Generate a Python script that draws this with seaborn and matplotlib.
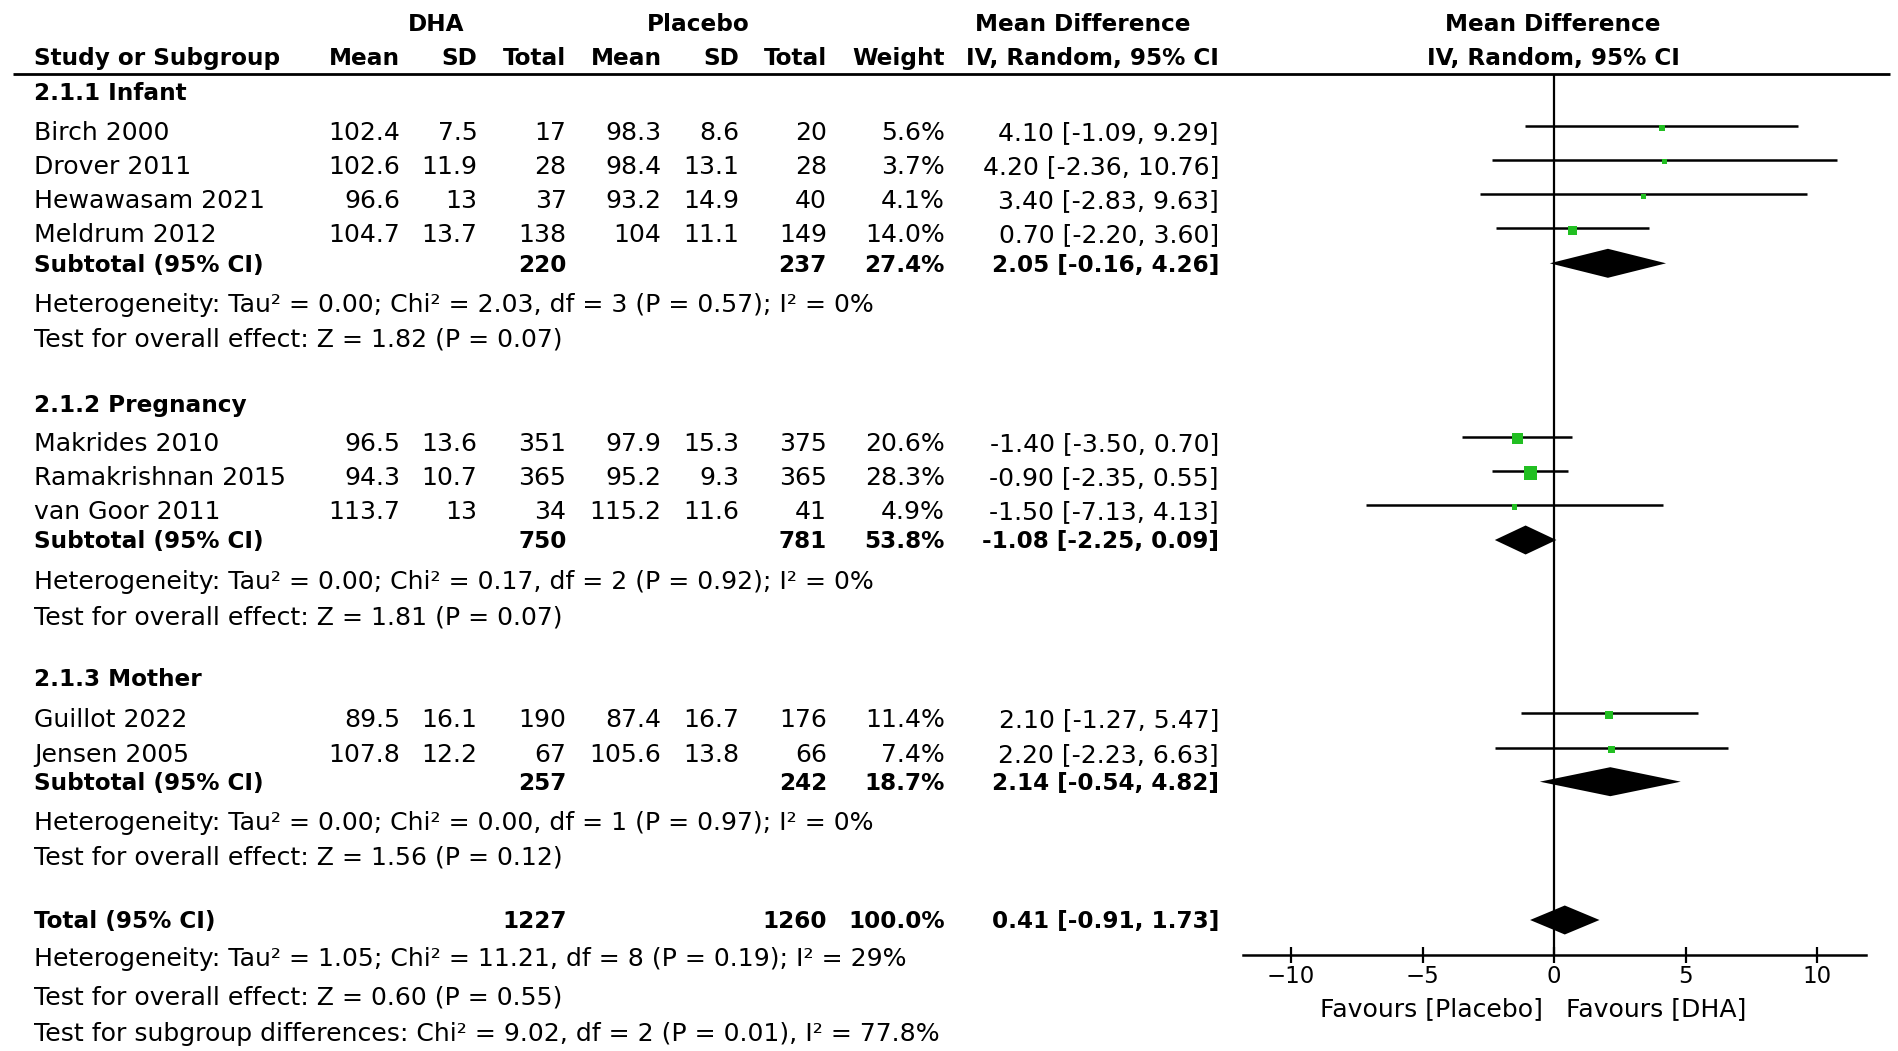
import numpy as np
import pandas as pd
import seaborn as sns
import matplotlib.pyplot as plt

# study level data (DHA vs placebo)
studies = ["Birch 2000", "Drover 2011", "Hewawasam 2021", "Meldrum 2012",
           "Makrides 2010", "Ramakrishnan 2015", "van Goor 2011",
           "Guillot 2022", "Jensen 2005"]
group = ["Infant"] * 4 + ["Pregnancy"] * 3 + ["Mother"] * 2
dha_mean = [102.4, 102.6, 96.6, 104.7, 96.5, 94.3, 113.7, 89.5, 107.8]
dha_sd = [7.5, 11.9, 13, 13.7, 13.6, 10.7, 13, 16.1, 12.2]
dha_n = [17, 28, 37, 138, 351, 365, 34, 190, 67]
pla_mean = [98.3, 98.4, 93.2, 104, 97.9, 95.2, 115.2, 87.4, 105.6]
pla_sd = [8.6, 13.1, 14.9, 11.1, 15.3, 9.3, 11.6, 16.7, 13.8]
pla_n = [20, 28, 40, 149, 375, 365, 41, 176, 66]
weight = [5.6, 3.7, 4.1, 14.0, 20.6, 28.3, 4.9, 11.4, 7.4]
md = [4.10, 4.20, 3.40, 0.70, -1.40, -0.90, -1.50, 2.10, 2.20]
md_lo = [-1.09, -2.36, -2.83, -2.20, -3.50, -2.35, -7.13, -1.27, -2.23]
md_hi = [9.29, 10.76, 9.63, 3.60, 0.70, 0.55, 4.13, 5.47, 6.63]

# subgroup summaries
sub_titles = ["2.1.1 Infant", "2.1.2 Pregnancy", "2.1.3 Mother"]
sub_dha_n = [220, 750, 257]
sub_pla_n = [237, 781, 242]
sub_weight = [27.4, 53.8, 18.7]
sub_md = [2.05, -1.08, 2.14]
sub_lo = [-0.16, -2.25, -0.54]
sub_hi = [4.26, 0.09, 4.82]
sub_het = ["Tau² = 0.00; Chi² = 2.03, df = 3 (P = 0.57); I² = 0%",
           "Tau² = 0.00; Chi² = 0.17, df = 2 (P = 0.92); I² = 0%",
           "Tau² = 0.00; Chi² = 0.00, df = 1 (P = 0.97); I² = 0%"]
sub_z = ["Z = 1.82 (P = 0.07)", "Z = 1.81 (P = 0.07)", "Z = 1.56 (P = 0.12)"]

# overall
tot_dha_n, tot_pla_n, tot_weight = 1227, 1260, 100.0
tot_md, tot_lo, tot_hi = 0.41, -0.91, 1.73
tot_het = "Tau² = 1.05; Chi² = 11.21, df = 8 (P = 0.19); I² = 29%"
tot_z = "Z = 0.60 (P = 0.55)"
sub_diff = "Chi² = 9.02, df = 2 (P = 0.01), I² = 77.8%"

ticks = [-10, -5, 0, 5, 10]

# ---- layout (pixels) ----
W, H = 1898, 1051
row_header = [91.7, 403.3, 678]
row_study = [130.7, 164.7, 199.3, 233.3, 441.7, 476, 510, 718, 752.7]
row_sub = [263.3, 540, 781.7]
row_het = [303, 580, 820.7]
row_test = [337.3, 615, 855]
row_total, row_tot_het, row_tot_test, row_sub_diff = 920, 957, 995, 1032
col_left = 34.5
col_r = dict(dha_mean=400, dha_sd=477.5, dha_n=566.5, pla_mean=661.5,
             pla_sd=739, pla_n=827, weight=945, est=1219)
zero_px, px_unit = 1554, 26.3
plot_left, plot_right = 1243, 1866
plot_top, plot_bottom = 74, 955
FS = 18.1
FS_BOLD = 16.7
green = "#22bf22"

sns.set_style("white")
plt.rcParams["font.family"] = ["DejaVu Sans"]

fig = plt.figure(figsize=(W / 100, H / 100), dpi=100)
ax0 = fig.add_axes([0, 0, 1, 1])
ax0.set_xlim(0, W)
ax0.set_ylim(H, 0)
ax0.axis("off")


def txt(x, y, s, ha="right", bold=False):
    # y is the visual middle of the digits; shift to baseline
    size = FS_BOLD if bold else FS
    ax0.text(x, y + 0.36 * size * 100 / 72, s, ha=ha, va="baseline", fontsize=size,
             fontweight="bold" if bold else "normal", color="black")


def fmt_ci(m, lo, hi):
    return f"{m:.2f} [{lo:.2f}, {hi:.2f}]"


# headers
txt(436, 22.7, "DHA", ha="center", bold=True)
txt(698, 22.7, "Placebo", ha="center", bold=True)
txt(1083, 22.7, "Mean Difference", ha="center", bold=True)
txt(1553, 22.7, "Mean Difference", ha="center", bold=True)
txt(col_left, 57, "Study or Subgroup", ha="left", bold=True)
for key, lab in [("dha_mean", "Mean"), ("dha_sd", "SD"), ("dha_n", "Total"),
                 ("pla_mean", "Mean"), ("pla_sd", "SD"), ("pla_n", "Total"),
                 ("weight", "Weight"), ("est", "IV, Random, 95% CI")]:
    txt(col_r[key], 57, lab, bold=True)
txt(1553, 57, "IV, Random, 95% CI", ha="center", bold=True)
ax0.hlines(plot_top, 13, 1890, color="black", lw=2)

# study rows
for i, s in enumerate(studies):
    y = row_study[i]
    txt(col_left, y, s, ha="left")
    txt(col_r["dha_mean"], y, f"{dha_mean[i]:g}")
    txt(col_r["dha_sd"], y, f"{dha_sd[i]:g}")
    txt(col_r["dha_n"], y, f"{dha_n[i]}")
    txt(col_r["pla_mean"], y, f"{pla_mean[i]:g}")
    txt(col_r["pla_sd"], y, f"{pla_sd[i]:g}")
    txt(col_r["pla_n"], y, f"{pla_n[i]}")
    txt(col_r["weight"], y, f"{weight[i]:.1f}%")
    txt(col_r["est"], y, fmt_ci(md[i], md_lo[i], md_hi[i]))

# subgroup rows
for g in range(3):
    txt(col_left, row_header[g], sub_titles[g], ha="left", bold=True)
    y = row_sub[g]
    txt(col_left, y, "Subtotal (95% CI)", ha="left", bold=True)
    txt(col_r["dha_n"], y, f"{sub_dha_n[g]}", bold=True)
    txt(col_r["pla_n"], y, f"{sub_pla_n[g]}", bold=True)
    txt(col_r["weight"], y, f"{sub_weight[g]:.1f}%", bold=True)
    txt(col_r["est"], y, fmt_ci(sub_md[g], sub_lo[g], sub_hi[g]), bold=True)
    txt(col_left, row_het[g], "Heterogeneity: " + sub_het[g], ha="left")
    txt(col_left, row_test[g], "Test for overall effect: " + sub_z[g], ha="left")

# total rows
txt(col_left, row_total, "Total (95% CI)", ha="left", bold=True)
txt(col_r["dha_n"], row_total, f"{tot_dha_n}", bold=True)
txt(col_r["pla_n"], row_total, f"{tot_pla_n}", bold=True)
txt(col_r["weight"], row_total, f"{tot_weight:.1f}%", bold=True)
txt(col_r["est"], row_total, fmt_ci(tot_md, tot_lo, tot_hi), bold=True)
txt(col_left, row_tot_het, "Heterogeneity: " + tot_het, ha="left")
txt(col_left, row_tot_test, "Test for overall effect: " + tot_z, ha="left")
txt(col_left, row_sub_diff, "Test for subgroup differences: " + sub_diff, ha="left")

# ---- forest panel ----
axf = fig.add_axes([plot_left / W, 1 - plot_bottom / H,
                    (plot_right - plot_left) / W, (plot_bottom - plot_top) / H])
axf.patch.set_alpha(0)
axf.set_xlim((plot_left - zero_px) / px_unit, (plot_right - zero_px) / px_unit)
axf.set_ylim(plot_bottom, plot_top)

df = pd.DataFrame({"study": studies, "md": md, "lo": md_lo, "hi": md_hi,
                   "weight": weight, "y": np.array(row_study) - 5})
axf.hlines(df["y"], df["lo"], df["hi"], color="black", lw=1.8, zorder=2)
wmin, wmax = min(weight), max(weight)
k = (2.5 * 0.72) ** 2
sns.scatterplot(data=df, x="md", y=df["y"] + 2, size="weight",
                sizes=(k * wmin, k * wmax), size_norm=(wmin, wmax),
                marker="s", color=green, linewidth=0, legend=False,
                ax=axf, zorder=3)

half = 14.5
for m, lo, hi, y in list(zip(sub_md, sub_lo, sub_hi, row_sub)) + [(tot_md, tot_lo, tot_hi, row_total)]:
    axf.fill([lo, m, hi, m], [y, y - half, y, y + half], color="black", lw=0, zorder=3)

axf.axvline(0, color="black", lw=1.6, zorder=1)
for sp in ["top", "left", "right"]:
    axf.spines[sp].set_visible(False)
axf.spines["bottom"].set_linewidth(1.8)
axf.spines["bottom"].set_color("black")
axf.set_xticks(ticks)
axf.set_yticks([])
axf.tick_params(axis="x", direction="inout", length=11, width=1.6,
                labelsize=16.5, pad=2, colors="black", bottom=True)
axf.set_xlabel("")
axf.set_ylabel("")

txt(zero_px - 11, 1006.7, "Favours [Placebo]")
txt(zero_px + 12, 1006.7, "Favours [DHA]", ha="left")

fig.savefig("out.png", dpi=100)
